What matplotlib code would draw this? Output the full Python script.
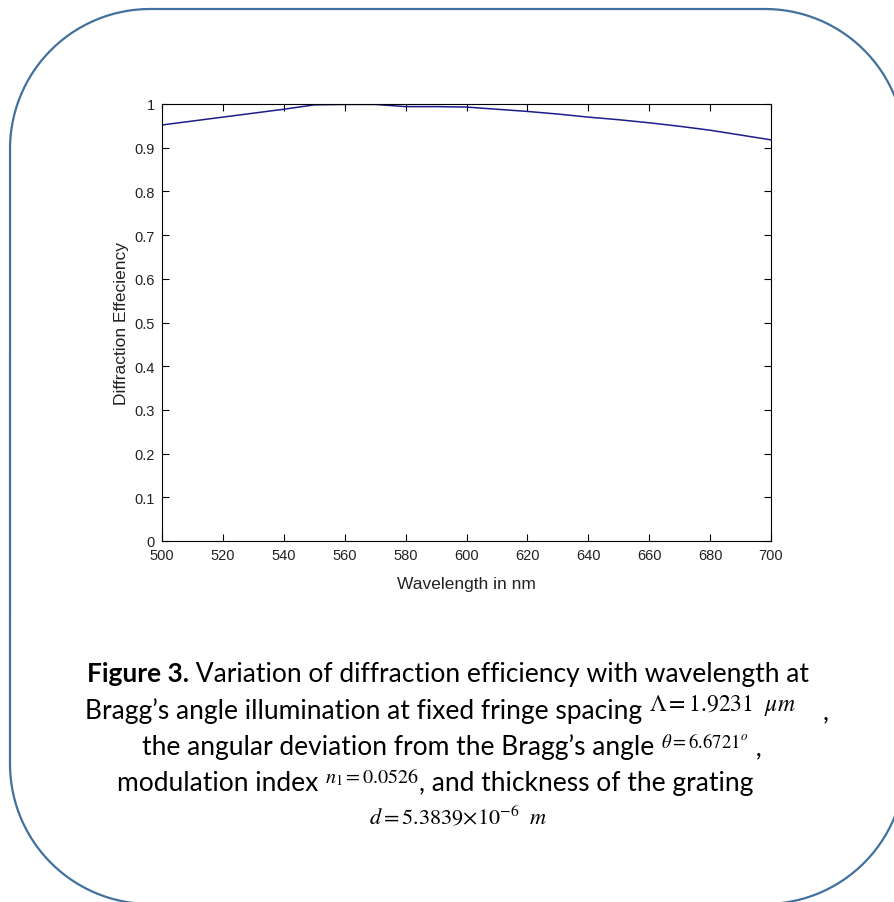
import matplotlib
matplotlib.use("Agg")
import numpy as np
import matplotlib.pyplot as plt
import matplotlib.transforms as mtransforms
from matplotlib import font_manager

# ---------------- data ----------------
wavelength_nm = [500, 510, 520, 530, 540, 550, 560, 570, 580, 590, 600,
                 610, 620, 630, 640, 650, 660, 670, 680, 690, 700]
efficiency = [0.952, 0.961, 0.970, 0.979, 0.988, 0.998, 0.999, 0.999, 0.994, 0.994, 0.993,
              0.988, 0.983, 0.977, 0.970, 0.964, 0.957, 0.949, 0.940, 0.929, 0.918]
x_ticks = [500, 520, 540, 560, 580, 600, 620, 640, 660, 680, 700]
y_ticks = [0, 0.1, 0.2, 0.3, 0.4, 0.5, 0.6, 0.7, 0.8, 0.9, 1]
y_tick_labels = ["0", "0.1", "0.2", "0.3", "0.4", "0.5", "0.6", "0.7", "0.8", "0.9", "1"]
x_label = "Wavelength in nm"
y_label = "Diffraction Effeciency"

W, H = 895, 903
fig = plt.figure(figsize=(W / 100, H / 100), dpi=100)
fig.patch.set_facecolor("white")

plt.rcParams["mathtext.fontset"] = "stix"

avail = {f.name for f in font_manager.fontManager.ttflist}
tick_font = ["Liberation Sans Narrow", "Liberation Sans", "DejaVu Sans"]
tick_font = [f for f in tick_font if f in avail] or ["DejaVu Sans"]
cap_font = ["Lato", "Open Sans", "DejaVu Sans"]
cap_font = [f for f in cap_font if f in avail] or ["DejaVu Sans"]

# ---------------- rounded frame (pixel coords, y from top) ----------------
bg = fig.add_axes([0, 0, 1, 1])
bg.set_xlim(0, W)
bg.set_ylim(H, 0)
bg.axis("off")
x0, y0, x1, y1, r = 10, 10, 905, 905, 140
corners = [((x1 - r, y0 + r), -90, 0), ((x1 - r, y1 - r), 0, 90),
           ((x0 + r, y1 - r), 90, 180), ((x0 + r, y0 + r), 180, 270)]
px, py = [], []
for (cx, cy), a0, a1 in corners:
    ang = np.radians(np.linspace(a0, a1, 60))
    px.extend(cx + r * np.cos(ang))
    py.extend(cy + r * np.sin(ang))
px.append(px[0])
py.append(py[0])
bg.plot(px, py, color="#41719C", linewidth=1.6, solid_capstyle="round")

# ---------------- chart ----------------
L, R, T, B = 162, 771, 105, 542
ax = fig.add_axes([L / W, 1 - B / H, (R - L) / W, (B - T) / H])
ax.plot(wavelength_nm, efficiency, color="#1c1c8c", linewidth=1.1)
ax.set_xlim(500, 700)
ax.set_ylim(0, 1)
ax.set_xticks(x_ticks)
ax.set_yticks(y_ticks)
ax.set_yticklabels(y_tick_labels)
ax.tick_params(direction="in", length=5, width=0.8, top=True, right=True,
               labelsize=10.5, colors="black", pad=5)
for lab in ax.get_xticklabels() + ax.get_yticklabels():
    lab.set_family(tick_font)
    lab.set_color("#222222")
for s in ax.spines.values():
    s.set_linewidth(0.8)
ax.set_xlabel(x_label, family=tick_font, fontsize=12.5, labelpad=10, color="#222222")
ax.set_ylabel(y_label, family=tick_font, fontsize=12.5, labelpad=4, color="#222222")

# ---------------- caption ----------------
renderer = fig.canvas.get_renderer()
ident = mtransforms.IdentityTransform()

# fit caption size so the first line spans ~720 px like the reference
probe = fig.text(0, 0, "Figure 3. Variation of diffraction efficiency with wavelength at",
                 family=cap_font, fontsize=10, transform=ident)
CAP = 10 * 720 / probe.get_window_extent(renderer).width
probe.remove()


def line(y_img, segments, cx=448):
    texts = []
    for s, kw, dy in segments:
        t = fig.text(0, 0, s, transform=ident, va="baseline", ha="left", **kw)
        texts.append((t, dy))
    widths = [t.get_window_extent(renderer).width for t, _ in texts]
    total = sum(widths)
    x = cx - total / 2
    for (t, dy), w in zip(texts, widths):
        t.set_position((x, H - y_img + dy))
        x += w


cap = dict(family=cap_font, fontsize=CAP, color="black")
capb = dict(family=cap_font, fontsize=CAP, color="black", weight="bold")

line(682, [("Figure 3.", capb, 0),
           (" Variation of diffraction efficiency with wavelength at", cap, 0)])
line(719, [("Bragg\u2019s angle illumination at fixed fringe spacing ", cap, 0),
           (r"$\Lambda = 1.9231\ \ \mu m$", dict(fontsize=17, color="black"), 8),
           ("    ,", cap, 0)], cx=457)
line(755, [("the angular deviation from the Bragg\u2019s angle ", cap, 0),
           (r"$\theta = 6.6721^{o}$", dict(fontsize=13.5, color="black"), 7),
           (" ,", cap, 0)], cx=452)
line(791, [("modulation index ", cap, 0),
           (r"$n_{1} = 0.0526$", dict(fontsize=14.5, color="black"), 8),
           (", and thickness of the grating", cap, 0)], cx=435)
line(824, [(r"$d = 5.3839{\times}10^{-6}\ \ m$", dict(fontsize=16, color="black"), 0)],
     cx=458)

fig.savefig("out.png", dpi=100, facecolor="white")
